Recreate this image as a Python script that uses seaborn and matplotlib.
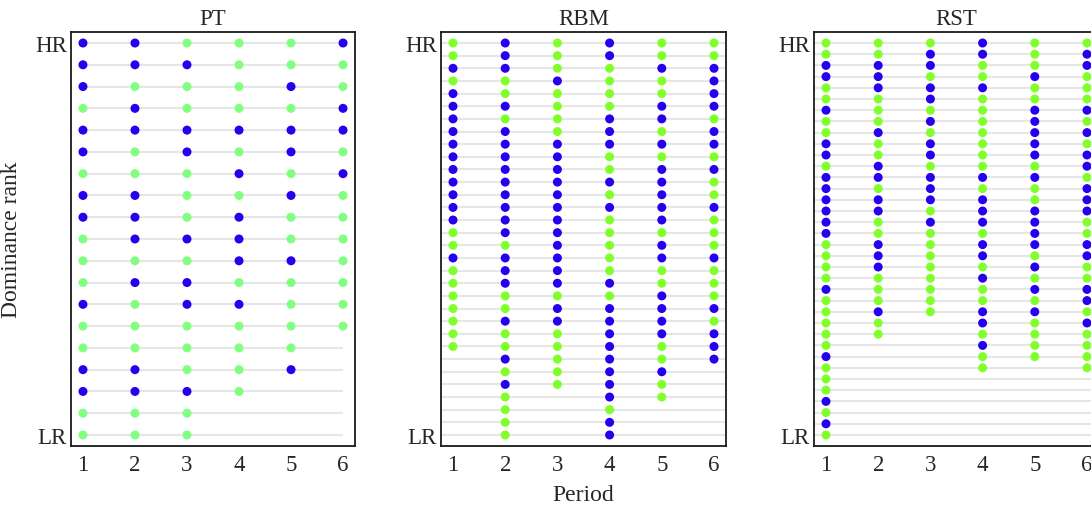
import pandas as pd
import matplotlib.pyplot as plt
import seaborn as sns

periods = [1, 2, 3, 4, 5, 6]

# one string per period, ranks from HR (top) down to LR; B = blue, G = green
pt_cols = [
    "BBBGBBGBBGGGBGGBBGG",
    "BBGBBGGBBBGBGGGBBGG",
    "GBGGBBGGGBGBBGGGBGG",
    "GGGGBGBGBBBGBGGGG",
    "GGBGBBGBGGBGGGGB",
    "BGGBBGBGGGGGGG",
]
rbm_cols = [
    "GGBGBBBBBBBBBBBGGBGGGGGGG",
    "BBBGGBGBBBBBBBBBGBBBGGBGGBGBGGGG",
    "GGGBGGGGBBBBBBBBBBBBGBBGGGGG",
    "BBGGGGBBBGGBGBGGGGGBGBBBBBBBBGBB",
    "GGBGGBBGBGBBBBBGBBGGBBBBGGBGG",
    "GGBBBBGBBGBGGBGGGBGGGBGBBB",
]
rst_cols = [
    "GGBBGGBGGBBGBBBBBBGGGGBGGGGGBGGGBGBG",
    "GGBBBGGGBGGBBGBBGGBBBGGGBGG",
    "GBBGBBGBGBBGBBBGBGGGGGGGG",
    "BBGGBGGGGGGGBGBBBGBBGBGGBBGBGG",
    "GGGBGGBBBBBGBGGBBBBGBGBGBGGGG",
    "GBBGGGBGBGBBGBBBGGBBGGBBGBGGGG",
]

titles = ["PT", "RBM", "RST"]
blue = "#2600ee"
pt_green = "#80ff80"
green = "#80ff2a"


def to_frame(cols):
    rows = []
    for p, s in zip(periods, cols):
        for r, c in enumerate(s, start=1):
            rows.append({"period": p, "rank": r, "state": c})
    return pd.DataFrame(rows)


sns.set_style("white")
plt.rcParams["font.family"] = ["Liberation Serif", "DejaVu Serif"]
plt.rcParams["font.size"] = 16

fig = plt.figure(figsize=(10.91, 5.06), dpi=100)
rects = [
    [71 / 1091, 59 / 506, 284 / 1091, 414 / 506],
    [441 / 1091, 59 / 506, 285 / 1091, 414 / 506],
    [814 / 1091, 59 / 506, 285 / 1091, 414 / 506],
]
panels = [(pt_cols, pt_green, True), (rbm_cols, green, False), (rst_cols, green, False)]

axes = []
for rect, title, (cols, g, short_lines) in zip(rects, titles, panels):
    ax = fig.add_axes(rect)
    df = to_frame(cols)
    n = df["rank"].max()
    ranks = list(range(1, n + 1))
    if short_lines:
        ax.hlines(ranks, 1, 6, color="#e6e6e6", lw=1.5, zorder=0)
    else:
        ax.hlines(ranks, 0.77, 6.23, color="#e6e6e6", lw=1.5, zorder=0)
    sns.scatterplot(data=df, x="period", y="rank", hue="state",
                    palette={"B": blue, "G": g}, s=42, linewidth=0,
                    legend=False, ax=ax, zorder=3)
    pad = 0.0281 * (n - 1)
    ax.set_xlim(0.77, 6.23)
    ax.set_ylim(n + pad, 1 - pad)
    ax.set_xticks(periods)
    ax.set_yticks([1, n])
    ax.set_yticklabels(["HR", "LR"])
    ax.tick_params(axis="x", direction="in", length=6, width=1.3,
                   color="#333333", pad=6, labelsize=16.5)
    ax.tick_params(axis="y", length=0, pad=3, labelsize=16.5)
    for sp in ax.spines.values():
        sp.set_color("#1a1a1a")
        sp.set_linewidth(1.3)
    ax.set_title(title, fontsize=16.5, pad=6)
    ax.set_xlabel("")
    ax.set_ylabel("")
    axes.append(ax)

axes[0].set_ylabel("Dominance rank", fontsize=17, labelpad=9)
axes[1].set_xlabel("Period", fontsize=17, labelpad=6)

plt.savefig("out.png", dpi=100)
